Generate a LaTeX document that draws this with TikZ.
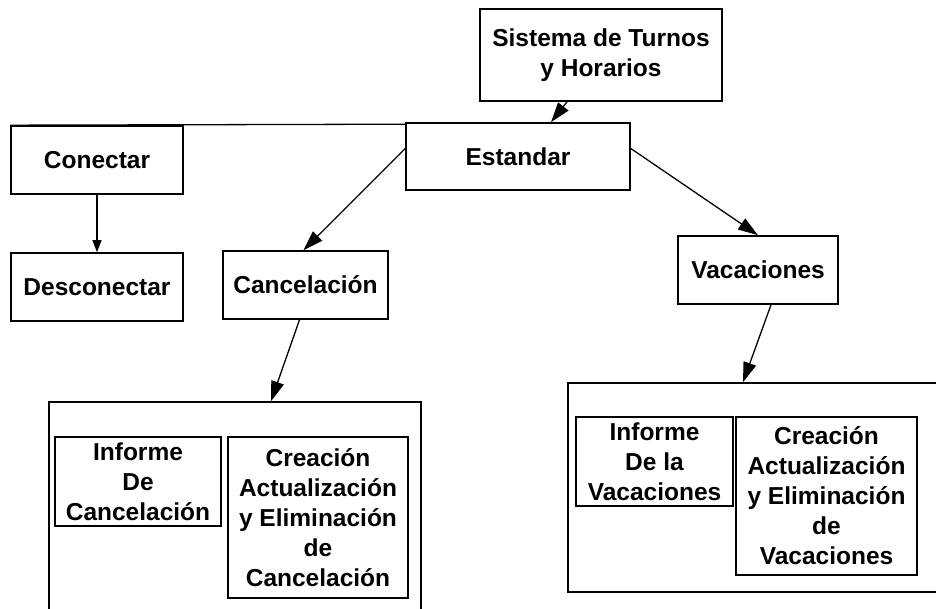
\documentclass[tikz,border=0pt]{standalone}
\usepackage{fontspec}
\setmainfont{Liberation Sans}
\usepackage{tikz}
\usetikzlibrary{positioning,arrows.meta}

\begin{document}
\begin{tikzpicture}[x=1pt,y=-1pt,
    every node/.style={draw,line width=1.6pt,inner sep=0pt,align=center,
        font=\fontsize{24.5}{30}\selectfont\bfseries},
    link/.style={line width=1.3pt,-{Triangle[length=20pt,width=13pt]}}]
    \useasboundingbox (0,0) rectangle (936,609);
    \clip (0,0) rectangle (936,609);
    %%%%% THE TOP
    \begin{scope}
      \node[minimum width=242pt,minimum height=92pt] (SISTEMA) at (601,55) {Sistema de Turnos\\y Horarios};
      \node[minimum width=224pt,minimum height=67pt] (ESTANDAR) at (518,156.5) {Estandar};
      \node[minimum width=172pt,minimum height=68pt] (CONECTAR) at (97,160) {Conectar};
      \node[minimum width=172pt,minimum height=68pt] (DESCONECTAR) at (97,287) {Desconectar};
      \node[minimum width=165pt,minimum height=68pt] (CANCEL) at (305.5,285) {Cancelación};
      \node[minimum width=160pt,minimum height=68pt] (VAC) at (758,270) {Vacaciones};
    \end{scope}
    %%%%% THE GROUPS
    \begin{scope}
      \node[minimum width=372pt,minimum height=238pt] (GCANCEL) at (235,521) {};
      \node[minimum width=166pt,minimum height=89pt] (INFCANCEL) at (138,481.5) {Informe\\De\\Cancelación};
      \node[minimum width=180pt,minimum height=161pt] (CRECANCEL) at (318,517.5) {Creación\\Actualización\\y Eliminación\\de\\Cancelación};
      \node[minimum width=382pt,minimum height=209pt] (GVAC) at (759,487.5) {};
      \node[minimum width=157pt,minimum height=89pt] (INFVAC) at (654.5,461.5) {Informe\\De la\\Vacaciones};
      \node[minimum width=181pt,minimum height=158pt] (CREVAC) at (826.5,496) {Creación\\Actualización\\y Eliminación\\de\\Vacaciones};
    \end{scope}
    %%%% LINKS
    \draw[line width=1.3pt] (CONECTAR.north west) -- ([yshift=-2pt]ESTANDAR.north west);
    \draw[line width=1.3pt,-{Triangle[length=12pt,width=9pt]}] (CONECTAR) -- (DESCONECTAR);
    \draw[link] ([xshift=-34pt]SISTEMA.south) -- ([xshift=33pt]ESTANDAR.north);
    \draw[link] ([yshift=8pt]ESTANDAR.west) -- ([xshift=-2pt]CANCEL.north);
    \draw[link] ([yshift=8pt]ESTANDAR.east) -- (VAC.north);
    \draw[link] ([xshift=-6pt]CANCEL.south) -- ([xshift=36pt]GCANCEL.north);
    \draw[link] ([xshift=13pt]VAC.south) -- ([xshift=-16pt]GVAC.north);
  \end{tikzpicture}
\end{document}
